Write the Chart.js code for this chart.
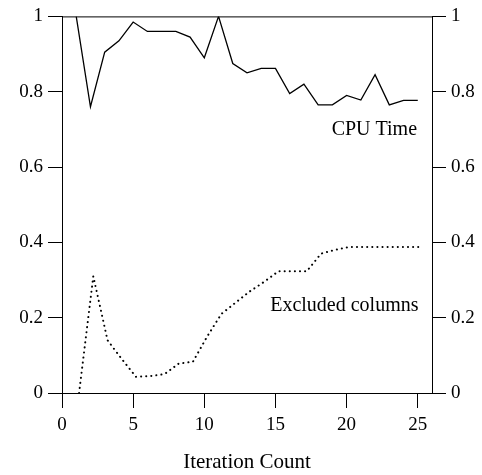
<!DOCTYPE html>
<html>
<head>
<meta charset="utf-8">
<script src="https://cdn.jsdelivr.net/npm/chart.js@4/dist/chart.umd.min.js"></script>
<style>
    body { margin: 0; background: #fff; }
    #grafico { width: 482px; height: 475px; }
</style>
</head>
<body>
<div id="grafico"><canvas id="cpu"></canvas></div>
<script>
// dados
const iteracoes = [1, 2, 3, 4, 5, 6, 7, 8, 9, 10, 11, 12, 13, 14, 15, 16, 17, 18, 19, 20, 21, 22, 23, 24, 25];
const tempoCpu = [1, 0.76, 0.905, 0.935, 0.985, 0.96, 0.96, 0.96, 0.945, 0.89, 1.0, 0.875, 0.85, 0.862, 0.862,
    0.795, 0.82, 0.765, 0.765, 0.79, 0.778, 0.845, 0.765, 0.777, 0.777];
// colunas excluidas aparecem um pouco deslocadas para a direita
const iteracoesExcl = [1.2, 2.2, 3.2, 4.2, 5.2, 6.2, 7.2, 8.2, 9.2, 10.2, 11.2, 12.2, 13.2, 14.2, 15.2,
    16.2, 17.2, 18.2, 19.2, 20.2, 21.2, 22.2, 23.2, 24.2, 25.2];
const colunasExcluidas = [0, 0.31, 0.14, 0.09, 0.043, 0.045, 0.05, 0.078, 0.083, 0.15, 0.21, 0.24, 0.27, 0.295, 0.323,
    0.323, 0.323, 0.37, 0.38, 0.388, 0.388, 0.388, 0.388, 0.388, 0.388];
const ticksX = [0, 5, 10, 15, 20, 25];

const fonte = 'Liberation Serif';

function pontos(xs, ys) {
    let lista = [];
    for (let i = 0; i < xs.length; i++) {
        lista.push({ x: xs[i], y: ys[i] });
    }
    return lista;
}

// caixa em volta da area e os rotulos das curvas
const moldura = {
    id: 'moldura',
    afterDraw(chart) {
        const ctx = chart.ctx;
        const a = chart.chartArea;
        const sx = chart.scales.x;
        const sy = chart.scales.y;
        ctx.save();
        ctx.strokeStyle = '#000';
        ctx.lineWidth = 1;
        ctx.beginPath();
        ctx.moveTo(a.left, a.top + 0.5);
        ctx.lineTo(a.right, a.top + 0.5);
        ctx.stroke();
        ctx.fillStyle = '#000';
        ctx.font = `20px "${fonte}"`;
        ctx.textAlign = 'right';
        ctx.textBaseline = 'middle';
        ctx.fillText('CPU Time', sx.getPixelForValue(24.95), sy.getPixelForValue(0.70));
        ctx.fillText('Excluded columns', sx.getPixelForValue(25.05), sy.getPixelForValue(0.232));
        ctx.restore();
    }
};

const eixoY = {
    min: 0,
    max: 1,
    ticks: {
        stepSize: 0.2,
        color: '#000',
        font: { family: fonte, size: 19 },
        padding: 5,
        callback: v => String(Number(v.toFixed(1)))
    },
    grid: { drawOnChartArea: false, drawTicks: true, tickLength: 14, color: '#000' },
    border: { display: true, color: '#000', width: 1 }
};

const config = {
    type: 'line',
    data: {
        datasets: [{
            label: 'CPU Time',
            data: pontos(iteracoes, tempoCpu),
            borderColor: '#000',
            borderWidth: 1.3,
            pointRadius: 0,
            tension: 0,
            yAxisID: 'y'
        }, {
            label: 'Excluded columns',
            data: pontos(iteracoesExcl, colunasExcluidas),
            borderColor: '#000',
            borderWidth: 2,
            borderDash: [0.1, 5],
            borderCapStyle: 'round',
            pointRadius: 0,
            tension: 0,
            yAxisID: 'y2'
        }]
    },
    options: {
        responsive: true,
        maintainAspectRatio: false,
        animation: false,
        layout: { padding: { top: 14, left: 0, right: 0, bottom: 0 } },
        plugins: { legend: { display: false }, tooltip: { enabled: false } },
        scales: {
            x: {
                type: 'linear',
                min: 0,
                max: 26,
                afterBuildTicks: s => { s.ticks = ticksX.map(v => ({ value: v })); },
                afterFit: s => { s.height = 82; },
                ticks: { color: '#000', font: { family: fonte, size: 19 }, padding: 6, maxRotation: 0 },
                grid: { drawOnChartArea: false, drawTicks: true, tickLength: 15, color: '#000' },
                border: { display: true, color: '#000', width: 1 },
                title: {
                    display: true,
                    text: 'Iteration Count',
                    color: '#000',
                    font: { family: fonte, size: 21 },
                    padding: { top: 10, bottom: 0 }
                }
            },
            y: Object.assign({}, eixoY, { position: 'left', afterFit: s => { s.width = 62; } }),
            y2: Object.assign({}, eixoY, { position: 'right', afterFit: s => { s.width = 50; } })
        }
    },
    plugins: [moldura]
};

let graficoCpu = new Chart(document.getElementById('cpu'), config);
</script>
</body>
</html>
